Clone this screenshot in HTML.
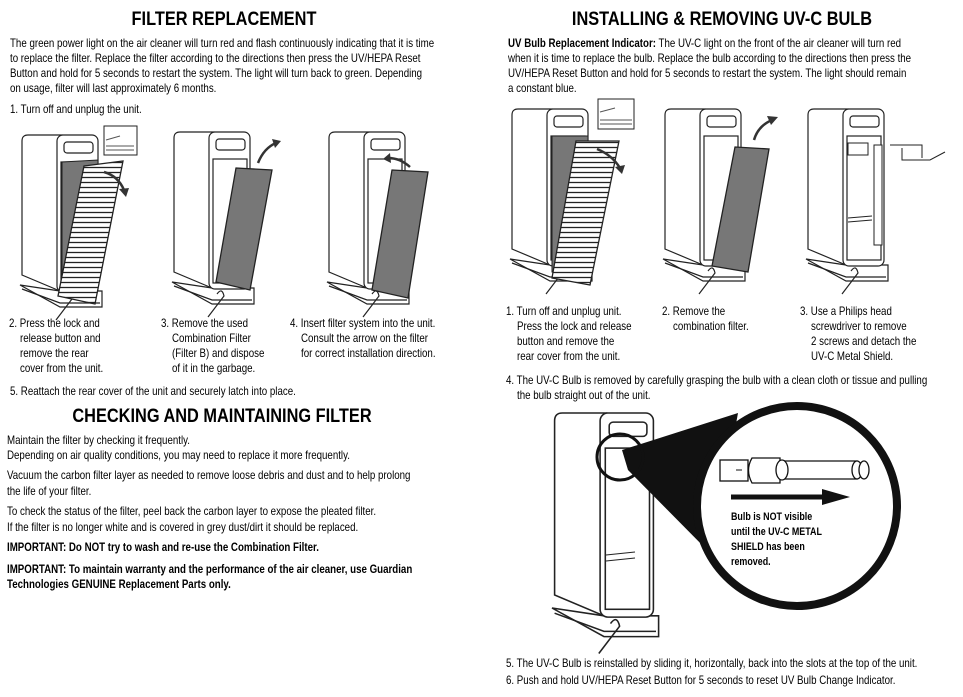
<!DOCTYPE html>
<html><head><meta charset="utf-8"><style>
html,body{margin:0;padding:0;background:#fff;}
#pg{position:relative;width:963px;height:697px;overflow:hidden;background:#fff;font-family:"Liberation Sans",sans-serif;color:#000;}
.t{position:absolute;white-space:nowrap;font-size:12px;line-height:14px;transform:scaleX(0.81);transform-origin:0 0;}
.b{font-weight:bold;}
.h{position:absolute;white-space:nowrap;font-weight:bold;font-size:19px;line-height:22px;transform:scaleX(0.86);transform-origin:50% 0;text-align:center;}
svg{position:absolute;left:0;top:0;}
</style></head><body><div id="pg">
<svg width="963" height="697" viewBox="0 0 963 697">
<defs>
<pattern id="gr" width="6" height="5" patternUnits="userSpaceOnUse"><rect width="6" height="5" fill="#fff"/><line x1="0" y1="2.5" x2="6" y2="2.5" stroke="#222" stroke-width="1.3"/></pattern>
<g id="unit" fill="#fff" stroke="#222" stroke-width="1.2">
<path d="M0,150 L40,172 L82,172 L82,156 L40,156 Z"/>
<path d="M2,154 L40,168 L80,168" fill="none"/>
<path d="M8,0 L42,0 L42,150 L40,156 L2,140 L2,6 Q2,0 8,0 Z"/>
<rect x="37" y="0" width="41" height="157" rx="6"/>
<rect x="44" y="7" width="29" height="11" rx="3"/>
<rect x="41" y="27" width="34" height="124"/>
<path d="M45,162 Q50,155 52,164 L36,185" fill="none"/>
</g>
</defs>
<use href="#unit" transform="translate(20,135)"/>
<polygon points="62,162 98,160 98,290 62,290" fill="#777" stroke="#222"/>
<polygon points="84,166 123,161 95,304 58,296" fill="url(#gr)" stroke="#222" stroke-width="1.3"/>
<path d="M104,172 Q118,176 124,190" fill="none" stroke="#333" stroke-width="2.5"/>
<polygon points="119,189 129,188 126,197" fill="#333"/>
<rect x="104" y="126" width="33" height="29" fill="#fff" stroke="#222"/>
<path d="M106,140 L120,136 M106,146 L134,146 M106,150 L134,150" stroke="#555"/>
<use href="#unit" transform="translate(172,132)"/>
<polygon points="236,168 272,170 250,290 216,282" fill="#777" stroke="#222" stroke-width="1.3"/>
<path d="M258,163 Q264,148 276,143" fill="none" stroke="#333" stroke-width="2.5"/>
<polygon points="272,139 281,141 275,148" fill="#333"/>
<use href="#unit" transform="translate(327,132)"/>
<polygon points="392,170 428,172 408,298 372,290" fill="#777" stroke="#222" stroke-width="1.3"/>
<path d="M410,167 Q400,158 388,158" fill="none" stroke="#333" stroke-width="2.5"/>
<polygon points="390,153 383,159 391,163" fill="#333"/>
<use href="#unit" transform="translate(510,109)"/>
<polygon points="552,136 588,136 588,272 552,272" fill="#777" stroke="#222"/>
<polygon points="576,141 619,141 590,285 552,278" fill="url(#gr)" stroke="#222" stroke-width="1.3"/>
<path d="M597,149 Q612,155 620,168" fill="none" stroke="#333" stroke-width="2.5"/>
<polygon points="615,167 625,165 622,174" fill="#333"/>
<rect x="598" y="99" width="36" height="30" fill="#fff" stroke="#222"/>
<path d="M600,112 L615,108 M600,120 L632,120 M600,124 L632,124" stroke="#555"/>
<use href="#unit" transform="translate(663,109)"/>
<polygon points="735,147 769,149 748,272 712,266" fill="#777" stroke="#222" stroke-width="1.3"/>
<path d="M754,140 Q758,126 772,120" fill="none" stroke="#333" stroke-width="2.5"/>
<polygon points="767,116 778,117 771,125" fill="#333"/>
<use href="#unit" transform="translate(806,109)"/>
<rect x="848" y="143" width="20" height="12" fill="#fff" stroke="#222"/>
<rect x="874" y="145" width="8" height="100" fill="#fff" stroke="#222"/>
<path d="M848,218 L872,216 M848,222 L872,220" stroke="#222"/>
<path d="M890,145 L922,145 L922,158 M902,148 L902,160 L930,160 L945,152" fill="none" stroke="#222"/>
<use href="#unit" transform="translate(552,413) scale(1.3)"/>
<path d="M606,555 L635,552 M606,561 L635,558" stroke="#222"/>
<polygon points="622,450 738,413 712,555 628,470" fill="#111"/>
<circle cx="620" cy="457" r="23" fill="none" stroke="#111" stroke-width="3"/>
<circle cx="797" cy="506" r="100" fill="#fff" stroke="#111" stroke-width="8"/>
<rect x="720" y="460" width="28" height="21" fill="#fff" stroke="#111" stroke-width="1.3"/>
<line x1="736" y1="470" x2="742" y2="470" stroke="#111"/>
<path d="M752,458 L780,458 L780,483 L752,483 Q745,470 752,458 Z" fill="#fff" stroke="#111" stroke-width="1.3"/>
<path d="M782,461 L857,461 L857,479 L782,479" fill="#fff" stroke="#111" stroke-width="1.3"/>
<ellipse cx="782" cy="470" rx="6" ry="10" fill="#fff" stroke="#111" stroke-width="1.3"/>
<ellipse cx="857" cy="470" rx="5" ry="9" fill="#fff" stroke="#111" stroke-width="1.3"/>
<ellipse cx="864" cy="470" rx="5" ry="9" fill="#fff" stroke="#111" stroke-width="1.3"/>
<line x1="731" y1="497" x2="825" y2="497" stroke="#111" stroke-width="5"/>
<polygon points="822,489 850,497 822,505" fill="#111"/>
</svg>

<div class="h" style="left:74px;top:9px;width:300px;">FILTER REPLACEMENT</div>
<div class="t" style="left:10px;top:36px;">The green power light on the air cleaner will turn red and flash continuously indicating that it is time</div>
<div class="t" style="left:10px;top:51px;">to replace the filter. Replace the filter according to the directions then press the UV/HEPA Reset</div>
<div class="t" style="left:10px;top:66px;">Button and hold for 5 seconds to restart the system. The light will turn back to green. Depending</div>
<div class="t" style="left:10px;top:81px;">on usage, filter will last approximately 6 months.</div>
<div class="t" style="left:10px;top:102px;">1. Turn off and unplug the unit.</div>

<div class="t" style="left:9px;top:316px;">2. Press the lock and</div>
<div class="t" style="left:20px;top:331px;">release button and</div>
<div class="t" style="left:20px;top:346px;">remove the rear</div>
<div class="t" style="left:20px;top:361px;">cover from the unit.</div>
<div class="t" style="left:161px;top:316px;">3. Remove the used</div>
<div class="t" style="left:172px;top:331px;">Combination Filter</div>
<div class="t" style="left:172px;top:346px;">(Filter B) and dispose</div>
<div class="t" style="left:172px;top:361px;">of it in the garbage.</div>
<div class="t" style="left:290px;top:316px;">4. Insert filter system into the unit.</div>
<div class="t" style="left:301px;top:331px;">Consult the arrow on the filter</div>
<div class="t" style="left:301px;top:346px;">for correct installation direction.</div>
<div class="t" style="left:10px;top:384px;">5. Reattach the rear cover of the unit and securely latch into place.</div>

<div class="h" style="left:22px;top:406px;width:400px;">CHECKING AND MAINTAINING FILTER</div>
<div class="t" style="left:7px;top:433px;">Maintain the filter by checking it frequently.</div>
<div class="t" style="left:7px;top:448px;">Depending on air quality conditions, you may need to replace it more frequently.</div>
<div class="t" style="left:7px;top:468px;">Vacuum the carbon filter layer as needed to remove loose debris and dust and to help prolong</div>
<div class="t" style="left:7px;top:484px;">the life of your filter.</div>
<div class="t" style="left:7px;top:504px;">To check the status of the filter, peel back the carbon layer to expose the pleated filter.</div>
<div class="t" style="left:7px;top:520px;">If the filter is no longer white and is covered in grey dust/dirt it should be replaced.</div>
<div class="t b" style="left:7px;top:540px;">IMPORTANT: Do NOT try to wash and re-use the Combination Filter.</div>
<div class="t b" style="left:7px;top:562px;">IMPORTANT: To maintain warranty and the performance of the air cleaner, use Guardian</div>
<div class="t b" style="left:7px;top:577px;">Technologies GENUINE Replacement Parts only.</div>

<div class="h" style="left:522px;top:9px;width:400px;">INSTALLING &amp; REMOVING UV-C BULB</div>
<div class="t" style="left:508px;top:36px;"><b>UV Bulb Replacement Indicator:</b> The UV-C light on the front of the air cleaner will turn red</div>
<div class="t" style="left:508px;top:51px;">when it is time to replace the bulb. Replace the bulb according to the directions then press the</div>
<div class="t" style="left:508px;top:66px;">UV/HEPA Reset Button and hold for 5 seconds to restart the system. The light should remain</div>
<div class="t" style="left:508px;top:81px;">a constant blue.</div>

<div class="t" style="left:506px;top:304px;">1. Turn off and unplug unit.</div>
<div class="t" style="left:517px;top:319px;">Press the lock and release</div>
<div class="t" style="left:517px;top:334px;">button and remove the</div>
<div class="t" style="left:517px;top:349px;">rear cover from the unit.</div>
<div class="t" style="left:662px;top:304px;">2. Remove the</div>
<div class="t" style="left:673px;top:319px;">combination filter.</div>
<div class="t" style="left:800px;top:304px;">3. Use a Philips head</div>
<div class="t" style="left:811px;top:319px;">screwdriver to remove</div>
<div class="t" style="left:811px;top:334px;">2 screws and detach the</div>
<div class="t" style="left:811px;top:349px;">UV-C Metal Shield.</div>
<div class="t" style="left:506px;top:373px;">4. The UV-C Bulb is removed by carefully grasping the bulb with a clean cloth or tissue and pulling</div>
<div class="t" style="left:517px;top:388px;">the bulb straight out of the unit.</div>

<div class="t b" style="left:731px;top:510px;font-size:11px;">Bulb is NOT visible</div>
<div class="t b" style="left:731px;top:525px;font-size:11px;">until the UV-C METAL</div>
<div class="t b" style="left:731px;top:540px;font-size:11px;">SHIELD has been</div>
<div class="t b" style="left:731px;top:555px;font-size:11px;">removed.</div>

<div class="t" style="left:506px;top:656px;">5. The UV-C Bulb is reinstalled by sliding it, horizontally, back into the slots at the top of the unit.</div>
<div class="t" style="left:506px;top:673px;">6. Push and hold UV/HEPA Reset Button for 5 seconds to reset UV Bulb Change Indicator.</div>
</div></body></html>
